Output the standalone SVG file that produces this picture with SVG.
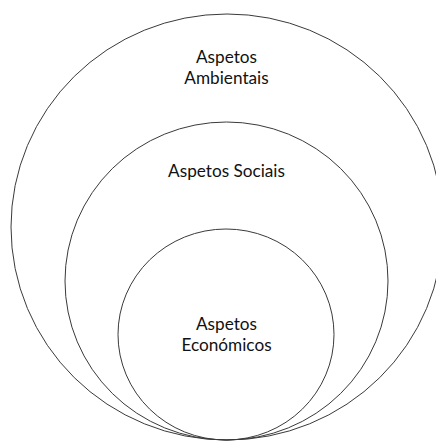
<svg xmlns="http://www.w3.org/2000/svg" width="436" height="441" viewBox="0 0 436 441">
  <style>
    .ring { fill: none; stroke: #3a3a3a; stroke-width: 1; }
    .label { font-family: Lato, "Open Sans", sans-serif; font-size: 17.2px; fill: #111; text-anchor: middle; }
  </style>
  <rect width="436" height="441" fill="#fff"/>
  <g id="ambientais">
    <ellipse class="ring" cx="227" cy="227" rx="216" ry="213"/>
    <text class="label" x="226.5" y="63">Aspetos</text>
    <text class="label" x="226.5" y="83.5">Ambientais</text>
  </g>
  <g id="sociais">
    <ellipse class="ring" cx="226.5" cy="281" rx="161.5" ry="159"/>
    <text class="label" x="226.5" y="176.5">Aspetos Sociais</text>
  </g>
  <g id="economicos">
    <ellipse class="ring" cx="226" cy="334.5" rx="108" ry="105.5"/>
    <text class="label" x="226.5" y="330">Aspetos</text>
    <text class="label" x="226.5" y="350.5">Económicos</text>
  </g>
</svg>
